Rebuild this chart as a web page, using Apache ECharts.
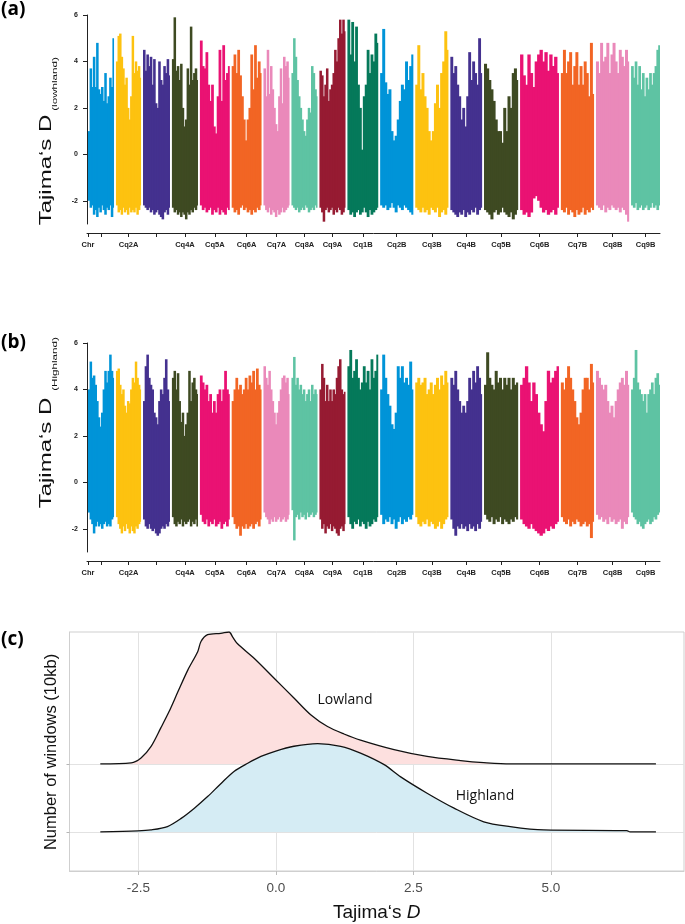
<!DOCTYPE html>
<html>
<head>
<meta charset="utf-8">
<script src="https://cdn.jsdelivr.net/npm/echarts@6/dist/echarts.min.js"></script>
<style>
html, body { margin: 0; padding: 0; background: #fff; }
#chart { width: 685px; height: 924px; }
</style>
</head>
<body>
<div id="chart"></div>
<script>
// chromosomes, sizes in Mb (read from block widths)
var chromNames = ['Cq1A', 'Cq2A', 'Cq3A', 'Cq4A', 'Cq5A', 'Cq6A', 'Cq7A', 'Cq8A', 'Cq9A',
	'Cq1B', 'Cq2B', 'Cq3B', 'Cq4B', 'Cq5B', 'Cq6B', 'Cq7B', 'Cq8B', 'Cq9B'];
var chromLengthMb = [55, 53, 57, 55, 63, 63, 55, 55, 55, 65, 70, 70, 67, 72, 82, 70, 70, 61];
var xTickLabels = ['Chr', '', 'Cq2A', '', 'Cq4A', 'Cq5A', 'Cq6A', 'Cq7A', 'Cq8A', 'Cq9A',
	'Cq1B', 'Cq2B', 'Cq3B', 'Cq4B', 'Cq5B', 'Cq6B', 'Cq7B', 'Cq8B', 'Cq9B'];
var yTickValues = [-2, 0, 2, 4, 6];
var densityTickValues = [-2.5, 0, 2.5, 5];

// Tajima's D per window, upper and lower ends (16 windows per chromosome)
var lowlandHigh = [
	[1.0, 3.7, 2.9, 4.2, 2.9, 4.8, 2.8, 2.6, 2.9, 2.3, 3.5, 2.2, 2.5, 3.3, 2.9, 5.0],
	[4.0, 5.1, 5.2, 4.2, 3.7, 3.0, 3.3, 2.0, 1.5, 2.5, 5.1, 3.5, 4.0, 3.6, 3.8, 3.3],
	[4.5, 3.6, 4.3, 3.8, 4.2, 3.0, 4.1, 2.2, 2.0, 4.0, 3.2, 3.0, 3.8, 3.5, 4.1, 3.4],
	[4.1, 5.9, 3.6, 3.8, 3.2, 3.9, 2.0, 1.2, 1.5, 3.7, 3.0, 5.5, 3.2, 3.5, 3.7, 3.2],
	[4.9, 3.8, 3.7, 4.4, 3.0, 2.3, 3.0, 1.2, 0.9, 2.5, 4.5, 2.3, 4.7, 3.2, 3.5, 3.8],
	[3.8, 4.3, 3.5, 4.5, 3.4, 2.5, 1.5, 0.6, 1.5, 2.0, 4.3, 2.8, 4.7, 3.3, 4.0, 3.5],
	[3.7, 2.5, 4.5, 2.6, 3.8, 2.8, 2.0, 1.3, 1.0, 2.5, 3.7, 2.2, 4.2, 3.8, 4.0, 3.3],
	[3.5, 5.0, 4.2, 3.2, 2.5, 2.0, 1.5, 1.0, 0.8, 1.5, 2.0, 1.8, 3.8, 3.5, 2.8, 2.5],
	[3.6, 3.4, 2.5, 3.0, 3.7, 2.3, 2.8, 3.0, 3.5, 4.5, 4.0, 5.0, 5.8, 5.2, 5.8, 5.3],
	[5.8, 4.3, 5.7, 4.0, 5.5, 3.0, 2.0, 0.2, 2.5, 3.0, 4.5, 3.5, 4.3, 4.0, 5.2, 4.8],
	[3.5, 5.4, 3.1, 2.6, 2.8, 1.0, 0.6, 0.8, 1.5, 2.3, 3.0, 2.8, 4.0, 3.2, 3.8, 4.3],
	[3.0, 4.7, 2.8, 3.5, 2.5, 2.0, 1.0, 0.6, 1.0, 2.2, 3.0, 2.0, 3.5, 4.0, 5.3, 4.5],
	[4.2, 3.5, 3.8, 3.0, 2.5, 1.5, 2.0, 1.2, 2.5, 4.4, 3.2, 4.0, 3.5, 3.0, 5.0, 3.5],
	[3.9, 3.7, 3.2, 2.8, 2.3, 1.5, 1.0, 1.0, 0.5, 2.0, 1.0, 2.5, 2.0, 3.5, 3.7, 3.2],
	[4.3, 3.4, 3.0, 4.3, 3.5, 2.9, 4.0, 4.3, 4.5, 4.0, 4.4, 3.6, 4.3, 3.8, 4.2, 3.5],
	[3.5, 4.5, 3.5, 4.0, 4.4, 3.0, 3.8, 4.4, 3.0, 3.8, 3.0, 4.0, 3.5, 2.5, 4.8, 2.6],
	[4.0, 3.5, 4.8, 4.0, 4.2, 4.8, 3.5, 4.3, 4.8, 4.0, 3.5, 4.5, 4.2, 3.8, 4.5, 4.0],
	[3.8, 3.3, 4.0, 3.0, 3.8, 2.8, 3.5, 2.5, 3.3, 2.8, 3.5, 3.0, 3.5, 3.8, 4.5, 4.7]
];
var lowlandLow = [
	[-2.0, -2.3, -2.2, -2.6, -2.4, -2.7, -2.3, -2.5, -2.2, -2.4, -2.6, -2.3, -2.4, -2.2, -2.7, -2.3],
	[-2.2, -2.5, -2.4, -2.6, -2.3, -2.5, -2.4, -2.6, -2.3, -2.5, -2.4, -2.5, -2.3, -2.6, -2.4, -2.2],
	[-2.2, -2.3, -2.4, -2.3, -2.5, -2.4, -2.6, -2.5, -2.4, -2.6, -2.7, -2.8, -2.5, -2.4, -2.6, -2.3],
	[-2.3, -2.5, -2.4, -2.6, -2.5, -2.7, -2.5, -2.6, -2.8, -2.5, -2.6, -2.4, -2.5, -2.3, -2.4, -2.2],
	[-2.2, -2.4, -2.3, -2.5, -2.4, -2.3, -2.6, -2.4, -2.5, -2.3, -2.6, -2.4, -2.5, -2.6, -2.3, -2.4],
	[-2.3, -2.5, -2.4, -2.6, -2.3, -2.2, -2.4, -2.3, -2.5, -2.4, -2.6, -2.4, -2.5, -2.3, -2.4, -2.2],
	[-2.2, -2.4, -2.5, -2.3, -2.6, -2.4, -2.5, -2.7, -2.4, -2.6, -2.5, -2.3, -2.5, -2.4, -2.3, -2.2],
	[-2.2, -2.3, -2.4, -2.3, -2.5, -2.4, -2.3, -2.4, -2.2, -2.3, -2.5, -2.4, -2.3, -2.4, -2.2, -2.3],
	[-2.3, -2.5, -2.9, -2.4, -2.3, -2.5, -2.4, -2.3, -2.6, -2.4, -2.5, -2.3, -2.4, -2.6, -2.5, -2.3],
	[-2.4, -2.6, -2.5, -2.7, -2.5, -2.4, -2.6, -2.5, -2.3, -2.5, -2.7, -2.4, -2.6, -2.5, -2.4, -2.3],
	[-2.2, -2.3, -2.2, -2.4, -2.3, -2.1, -2.3, -2.5, -2.2, -2.3, -2.4, -2.2, -2.3, -2.4, -2.5, -2.6],
	[-2.3, -2.4, -2.5, -2.3, -2.5, -2.4, -2.6, -2.3, -2.4, -2.5, -2.3, -2.7, -2.5, -2.4, -2.6, -2.3],
	[-2.4, -2.5, -2.6, -2.7, -2.5, -2.6, -2.4, -2.7, -2.5, -2.6, -2.4, -2.5, -2.3, -2.6, -2.4, -2.3],
	[-2.4, -2.5, -2.6, -2.8, -2.5, -2.4, -2.6, -2.5, -2.3, -2.5, -2.6, -2.7, -2.5, -2.8, -2.6, -2.4],
	[-2.4, -2.6, -2.5, -2.7, -2.5, -1.9, -1.8, -2.0, -2.3, -2.5, -2.4, -2.6, -2.5, -2.4, -2.6, -2.3],
	[-2.4, -2.5, -2.3, -2.6, -2.4, -2.5, -2.7, -2.4, -2.6, -2.5, -2.3, -2.6, -2.4, -2.5, -2.3, -2.4],
	[-2.2, -2.3, -2.4, -2.2, -2.5, -2.3, -2.4, -2.2, -2.3, -2.4, -2.3, -2.5, -2.3, -2.4, -2.6, -2.9],
	[-2.2, -2.3, -2.1, -2.4, -2.3, -2.2, -2.4, -2.3, -2.2, -2.4, -2.3, -2.1, -2.3, -2.2, -2.4, -2.2]
];
var highlandHigh = [
	[4.0, 5.2, 4.5, 4.6, 4.2, 3.5, 2.8, 2.4, 3.0, 4.0, 4.8, 4.3, 4.8, 5.5, 4.8, 4.5],
	[4.8, 4.9, 4.2, 3.8, 4.0, 3.3, 3.0, 3.5, 3.4, 4.0, 4.5, 4.3, 5.2, 4.5, 4.2, 4.0],
	[3.5, 5.0, 5.5, 4.5, 4.2, 4.0, 3.0, 2.8, 2.5, 3.5, 4.0, 3.8, 4.5, 5.3, 4.0, 3.5],
	[4.5, 4.8, 4.0, 4.7, 3.5, 2.6, 3.0, 2.0, 2.5, 3.0, 4.8, 3.5, 4.3, 4.5, 4.0, 3.8],
	[4.6, 4.3, 4.0, 4.2, 3.5, 3.8, 3.0, 3.5, 3.0, 3.8, 4.0, 3.5, 4.0, 4.8, 4.0, 3.8],
	[3.5, 4.0, 4.5, 4.0, 4.2, 3.8, 4.0, 4.5, 4.0, 4.6, 4.3, 4.8, 4.0, 4.9, 4.2, 4.0],
	[5.0, 4.5, 4.2, 4.8, 4.0, 3.5, 3.0, 2.5, 3.0, 3.5, 4.0, 4.5, 4.6, 4.3, 4.5, 3.8],
	[4.5, 5.4, 4.2, 4.5, 4.0, 4.2, 3.8, 4.0, 3.5, 3.8, 4.0, 3.5, 4.2, 3.8, 4.0, 3.8],
	[4.0, 5.1, 4.5, 3.5, 4.2, 3.5, 4.0, 3.5, 4.0, 3.8, 4.5, 5.0, 5.3, 4.0, 3.8, 3.9],
	[5.0, 5.7, 4.5, 4.8, 5.3, 4.5, 4.0, 4.3, 5.0, 4.3, 4.8, 4.0, 5.3, 4.5, 4.8, 5.5],
	[4.0, 5.5, 4.5, 3.8, 3.3, 2.5, 2.3, 3.0, 5.0, 4.5, 5.0, 4.3, 4.5, 4.2, 5.2, 4.0],
	[4.3, 4.5, 4.2, 4.3, 4.5, 3.8, 4.0, 4.3, 3.8, 4.2, 4.5, 4.0, 4.6, 4.2, 4.8, 4.3],
	[4.5, 4.2, 4.8, 4.0, 3.5, 3.0, 3.3, 3.0, 3.5, 4.5, 4.0, 4.8, 4.3, 5.0, 4.5, 3.8],
	[4.2, 5.6, 4.5, 4.2, 4.0, 4.8, 4.3, 4.5, 4.0, 4.5, 4.2, 4.5, 4.0, 4.5, 4.2, 4.3],
	[4.2, 4.5, 5.0, 4.3, 3.5, 4.3, 3.8, 3.0, 2.5, 2.2, 3.5, 4.8, 4.3, 4.5, 4.8, 5.0],
	[4.3, 4.0, 4.5, 5.0, 4.5, 4.0, 3.5, 2.8, 2.5, 3.0, 4.0, 4.5, 4.5, 4.0, 5.1, 4.3],
	[4.8, 4.5, 4.2, 4.0, 4.2, 3.5, 3.0, 3.3, 2.8, 3.5, 4.0, 4.3, 4.5, 4.2, 4.8, 4.2],
	[4.0, 4.5, 5.7, 4.3, 4.0, 3.8, 3.5, 3.8, 3.0, 3.8, 4.0, 4.3, 3.8, 4.5, 4.7, 4.2]
];
var highlandLow = [
	[-1.3, -1.6, -1.8, -2.2, -1.9, -1.7, -1.9, -1.8, -2.0, -1.8, -1.7, -1.9, -1.8, -1.9, -1.6, -1.5],
	[-1.5, -1.8, -2.0, -2.2, -1.9, -2.1, -1.8, -2.0, -2.2, -1.9, -2.1, -2.2, -1.9, -2.0, -1.8, -1.7],
	[-1.6, -1.9, -2.0, -1.8, -2.0, -2.1, -2.0, -2.2, -2.3, -2.2, -2.0, -1.9, -2.0, -1.8, -1.9, -1.7],
	[-1.5, -1.8, -1.9, -1.7, -1.8, -1.6, -1.9, -1.7, -1.8, -1.7, -1.6, -1.9, -1.7, -1.8, -1.6, -1.9],
	[-1.4, -1.7, -1.8, -1.6, -1.9, -1.7, -1.8, -1.6, -1.9, -1.8, -1.7, -2.0, -1.8, -1.7, -1.9, -1.6],
	[-1.5, -1.8, -2.0, -1.9, -2.3, -1.9, -2.0, -1.8, -2.0, -1.9, -1.8, -2.0, -1.8, -1.7, -1.9, -1.6],
	[-1.3, -1.5, -1.6, -1.8, -1.6, -1.7, -1.5, -1.7, -1.6, -1.5, -1.7, -1.6, -1.5, -1.7, -1.6, -1.4],
	[-1.2, -2.5, -1.5, -1.4, -1.6, -1.3, -1.5, -1.4, -1.6, -1.3, -1.5, -1.4, -1.3, -1.5, -1.4, -1.3],
	[-1.6, -2.0, -1.8, -2.2, -1.9, -2.0, -1.8, -2.1, -1.9, -2.0, -2.2, -2.3, -2.0, -1.9, -2.1, -1.8],
	[-1.5, -1.8, -2.0, -1.7, -1.8, -1.6, -1.9, -1.7, -1.8, -2.0, -1.7, -1.9, -1.8, -1.6, -1.7, -1.5],
	[-1.4, -1.8, -1.6, -1.7, -1.5, -1.8, -1.6, -2.0, -1.7, -1.5, -1.8, -1.6, -1.7, -1.5, -1.6, -1.4],
	[-1.5, -1.8, -1.9, -1.7, -1.8, -1.6, -1.9, -1.7, -1.8, -2.0, -1.9, -1.7, -2.0, -1.8, -1.6, -1.5],
	[-1.6, -2.0, -2.3, -1.9, -2.0, -1.8, -2.0, -1.9, -2.1, -1.8, -2.0, -1.9, -2.1, -1.8, -2.0, -1.7],
	[-1.4, -1.6, -1.7, -1.5, -1.8, -1.6, -1.7, -1.5, -1.8, -1.6, -1.7, -1.8, -1.6, -1.7, -1.5, -1.6],
	[-1.6, -1.8, -1.9, -2.0, -1.8, -2.0, -2.1, -2.2, -2.3, -2.2, -2.0, -2.1, -1.9, -2.0, -1.8, -1.7],
	[-1.5, -1.7, -1.8, -1.6, -1.9, -1.7, -1.8, -1.6, -1.7, -1.9, -1.8, -1.7, -1.9, -1.8, -2.4, -1.7],
	[-1.4, -1.6, -1.5, -1.7, -1.6, -1.8, -1.5, -1.7, -1.6, -1.8, -1.7, -1.6, -2.0, -1.7, -1.8, -1.5],
	[-1.3, -1.5, -1.6, -1.8, -1.7, -1.9, -2.0, -1.8, -1.7, -1.6, -1.8, -1.7, -1.5, -1.6, -1.4, -1.3]
];

// (c) density curves, height above each baseline
var lowlandX = [-3.19, -2.63, -2.45, -2.27, -2.09, -1.94, -1.78, -1.60, -1.42, -1.36, -1.24, -1.0, -0.85,
	-0.78, -0.70, -0.39, -0.03, 0.33, 0.64, 0.94, 1.24, 1.54, 2.15, 2.75, 3.36, 3.78, 4.26, 6.91];
var lowlandDensity = [0, 0.015, 0.088, 0.254, 0.53, 0.77, 1.06, 1.38, 1.65, 1.80, 1.90, 1.92, 1.94,
	1.86, 1.77, 1.55, 1.26, 0.97, 0.72, 0.55, 0.44, 0.35, 0.21, 0.11, 0.05, 0.02, 0, 0];
var highlandX = [-3.19, -2.51, -2.27, -1.97, -1.72, -1.48, -1.24, -1.00, -0.76, -0.51, -0.27, 0, 0.33,
	0.76, 1.18, 1.54, 1.97, 2.27, 2.75, 3.24, 3.78, 4.26, 4.87, 6.38, 6.44, 6.91];
var highlandDensity = [0, 0.015, 0.03, 0.08, 0.20, 0.35, 0.52, 0.71, 0.89, 1.01, 1.11, 1.19, 1.26,
	1.30, 1.26, 1.16, 0.99, 0.81, 0.57, 0.35, 0.15, 0.08, 0.03, 0.02, 0, 0];

var chromColors = ['#0094d8', '#fdc210', '#44318f', '#3e4a22', '#ea1273', '#f26524', '#ea89ba', '#5ec3a3',
	'#961b32', '#05795a', '#0094d8', '#fdc210', '#44318f', '#3e4a22', '#ea1273', '#f26524', '#ea89ba', '#5ec3a3'];

var GAP = 4;
var chromStart = [];
var pos = 0;
chromLengthMb.forEach(function (len) {
	chromStart.push(pos);
	pos += len + GAP;
});
var genomeEnd = pos - GAP;
var xTickValues = [0].concat(chromStart.map(function (s, i) {
	return s + chromLengthMb[i] / 2;
}));

function buildWindows(highs, lows) {
	var out = [];
	highs.forEach(function (row, c) {
		var w = chromLengthMb[c] / row.length;
		row.forEach(function (hi, k) {
			var x0 = chromStart[c] + k * w;
			out.push([x0, x0 + w, lows[c][k], hi, c, k === row.length - 1 ? 1 : 0]);
		});
	});
	return out;
}

function renderWindow(params, api) {
	var p1 = api.coord([api.value(0), api.value(3)]);
	var p2 = api.coord([api.value(1), api.value(2)]);
	var last = api.value(5) === 1;
	return {
		type: 'rect',
		shape: { x: p1[0], y: p1[1], width: p2[0] - p1[0] + (last ? 0 : 0.9), height: p2[1] - p1[1] },
		style: { fill: chromColors[api.value(4)] }
	};
}

function tickLabel(v) {
	for (var i = 0; i < xTickValues.length; i++) {
		if (Math.abs(xTickValues[i] - v) < 0.01) return xTickLabels[i];
	}
	return '';
}

function genomeX(gridIndex) {
	return {
		type: 'value',
		gridIndex: gridIndex,
		min: -2,
		max: genomeEnd,
		offset: 9,
		axisLine: { show: true, onZero: false, lineStyle: { color: '#222', width: 1 } },
		axisTick: { show: true, customValues: xTickValues, length: 4, lineStyle: { color: '#222' } },
		axisLabel: {
			customValues: xTickValues, formatter: tickLabel, margin: 8,
			fontSize: 7.5, fontWeight: 'bold', color: '#222', fontFamily: 'Liberation Sans'
		},
		splitLine: { show: false }
	};
}

function genomeY(gridIndex) {
	return {
		type: 'value',
		gridIndex: gridIndex,
		min: -3,
		max: 6,
		axisLine: { show: true, onZero: false, lineStyle: { color: '#222', width: 1 } },
		axisTick: { show: true, customValues: yTickValues, length: 4, lineStyle: { color: '#222' } },
		axisLabel: {
			customValues: yTickValues, margin: 9,
			fontSize: 7, fontWeight: 'bold', color: '#222', fontFamily: 'Liberation Sans'
		},
		splitLine: { show: false }
	};
}

function yTitle(x, y, text, size, scale) {
	return {
		type: 'text', x: x, y: y, rotation: Math.PI / 2, scaleX: scale,
		style: {
			text: text, fontSize: size, fontFamily: 'Liberation Sans', fill: '#111',
			align: 'center', verticalAlign: 'middle'
		}
	};
}

function panelTag(y, text) {
	return {
		type: 'text', x: 1, y: y,
		style: {
			text: text, fontSize: 19, fontWeight: 'bold', fontFamily: 'Open Sans', fill: '#000',
			align: 'left', verticalAlign: 'middle'
		}
	};
}

var chart = echarts.init(document.getElementById('chart'));

var option = {
	animation: false,
	backgroundColor: '#fff',
	grid: [
		{ left: 87, right: 25, top: 15, height: 209, outerBoundsMode: 'none', containLabel: false },
		{ left: 87, right: 25, top: 343, height: 209, outerBoundsMode: 'none', containLabel: false },
		{
			left: 69.5, right: 1, top: 632, height: 239, outerBoundsMode: 'none', containLabel: false,
			show: true, borderColor: '#cfcfcf', borderWidth: 1
		}
	],
	xAxis: [
		genomeX(0),
		genomeX(1),
		{
			type: 'value',
			gridIndex: 2,
			min: -3.75,
			max: 7.42,
			interval: 1.25,
			axisLine: { show: true, onZero: false, lineStyle: { color: '#cfcfcf' } },
			axisTick: { show: true, customValues: densityTickValues, length: 4, lineStyle: { color: '#bdbdbd' } },
			axisLabel: {
				margin: 10, fontSize: 13.5, color: '#4d4d4d', fontFamily: 'Liberation Sans',
				customValues: densityTickValues,
				formatter: function (v) { return v.toFixed(1); }
			},
			splitLine: { show: true, lineStyle: { color: '#e2e2e2', width: 1 } },
			name: '{a|Tajima‘s }{b|D}',
			nameLocation: 'middle',
			nameGap: 32,
			nameTextStyle: {
				rich: {
					a: { fontSize: 19, fontFamily: 'Liberation Sans', color: '#111' },
					b: { fontSize: 19, fontFamily: 'Liberation Sans', fontStyle: 'italic', color: '#111' }
				}
			}
		}
	],
	yAxis: [
		genomeY(0),
		genomeY(1),
		{
			type: 'value',
			gridIndex: 2,
			min: -0.574,
			max: 2.94,
			axisLine: { show: true, onZero: false, lineStyle: { color: '#cfcfcf' } },
			axisTick: { show: true, customValues: [0, 1], length: 3, lineStyle: { color: '#b5b5b5' } },
			axisLabel: { show: false },
			splitLine: { show: false }
		}
	],
	series: [
		{
			type: 'custom', xAxisIndex: 0, yAxisIndex: 0, silent: true,
			renderItem: renderWindow,
			encode: { x: [0, 1], y: [2, 3] },
			data: buildWindows(lowlandHigh, lowlandLow)
		},
		{
			type: 'custom', xAxisIndex: 1, yAxisIndex: 1, silent: true,
			renderItem: renderWindow,
			encode: { x: [0, 1], y: [2, 3] },
			data: buildWindows(highlandHigh, highlandLow)
		},
		{
			name: 'Lowland', type: 'line', xAxisIndex: 2, yAxisIndex: 2,
			showSymbol: false, smooth: 0.3, silent: true,
			lineStyle: { color: '#111', width: 1.3 },
			areaStyle: { color: '#fde0df', opacity: 1, origin: 1 },
			data: lowlandX.map(function (x, i) { return [x, 1 + lowlandDensity[i]]; }),
			markLine: {
				silent: true, symbol: 'none', label: { show: false }, z: 0,
				lineStyle: { color: '#e2e2e2', type: 'solid', width: 1 },
				data: [{ yAxis: 0 }, { yAxis: 1 }]
			}
		},
		{
			name: 'Highland', type: 'line', xAxisIndex: 2, yAxisIndex: 2,
			showSymbol: false, smooth: 0.3, silent: true,
			lineStyle: { color: '#111', width: 1.3 },
			areaStyle: { color: '#d5ecf4', opacity: 1, origin: 0 },
			data: highlandX.map(function (x, i) { return [x, highlandDensity[i]]; })
		}
	],
	graphic: [
		panelTag(10, '(a)'),
		panelTag(343, '(b)'),
		panelTag(640, '(c)'),
		yTitle(46.5, 170, 'Tajima‘s D', 16, 1.5),
		yTitle(55, 84, '(lowhland)', 8, 1.45),
		yTitle(46.5, 453, 'Tajima‘s D', 16, 1.5),
		yTitle(55, 364, '(Highland)', 8, 1.45),
		yTitle(51, 752, 'Number of windows (10kb)', 16.5, 1),
		{
			type: 'text', x: 345, y: 700,
			style: { text: 'Lowland', fontSize: 14, fontFamily: 'Open Sans', fill: '#111', align: 'center', verticalAlign: 'middle' }
		},
		{
			type: 'text', x: 485, y: 796,
			style: { text: 'Highland', fontSize: 14, fontFamily: 'Open Sans', fill: '#111', align: 'center', verticalAlign: 'middle' }
		}
	]
};

chart.setOption(option);
</script>
</body>
</html>
